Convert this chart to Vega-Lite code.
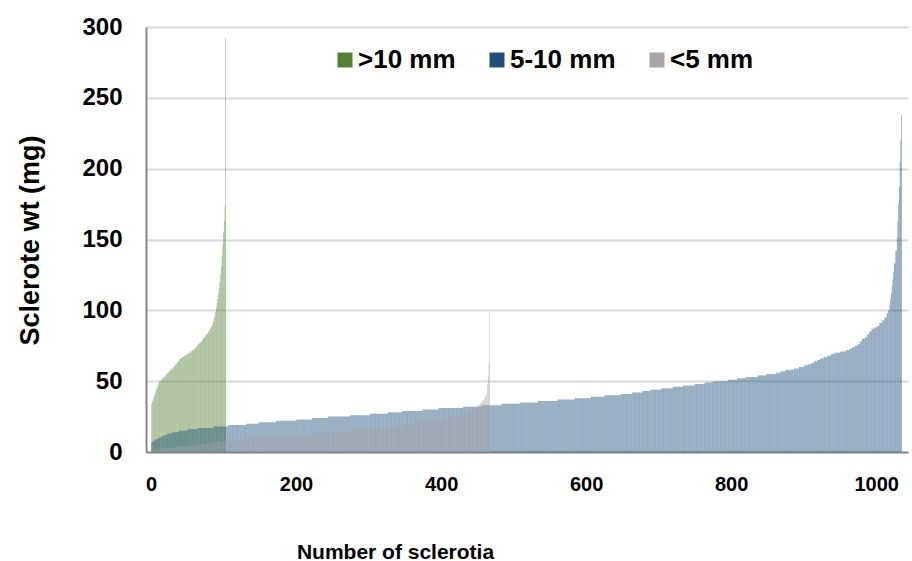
{
"$schema": "https://vega.github.io/schema/vega-lite/v6.json",
"width": 762,
"height": 425,
"autosize": {"type": "none"},
"padding": {"left": 146, "top": 27, "right": 4, "bottom": 109},
"background": "white",
"config": {"view": {"stroke": null}, "font": "Liberation Sans"},
"datasets": {
"green": [{"n":1,"w":34},{"n":2,"w":36},{"n":3,"w":37},{"n":4,"w":39},{"n":5,"w":40},{"n":6,"w":42},{"n":7,"w":44},{"n":8,"w":45},{"n":9,"w":46},{"n":10,"w":48},{"n":11,"w":49},{"n":12,"w":50},{"n":13,"w":50},{"n":14,"w":51},{"n":15,"w":51},{"n":16,"w":52},{"n":17,"w":52},{"n":18,"w":53},{"n":19,"w":53},{"n":20,"w":54},{"n":21,"w":54},{"n":22,"w":55},{"n":23,"w":56},{"n":24,"w":56},{"n":25,"w":57},{"n":26,"w":57},{"n":27,"w":58},{"n":28,"w":58},{"n":29,"w":59},{"n":30,"w":59},{"n":31,"w":60},{"n":32,"w":60},{"n":33,"w":61},{"n":34,"w":62},{"n":35,"w":62},{"n":36,"w":63},{"n":37,"w":64},{"n":38,"w":64},{"n":39,"w":65},{"n":40,"w":66},{"n":41,"w":66},{"n":42,"w":66},{"n":43,"w":67},{"n":44,"w":67},{"n":45,"w":67},{"n":46,"w":68},{"n":47,"w":68},{"n":48,"w":68},{"n":49,"w":69},{"n":50,"w":69},{"n":51,"w":69},{"n":52,"w":70},{"n":53,"w":70},{"n":54,"w":70},{"n":55,"w":71},{"n":56,"w":71},{"n":57,"w":72},{"n":58,"w":72},{"n":59,"w":72},{"n":60,"w":73},{"n":61,"w":73},{"n":62,"w":74},{"n":63,"w":74},{"n":64,"w":75},{"n":65,"w":76},{"n":66,"w":76},{"n":67,"w":77},{"n":68,"w":77},{"n":69,"w":78},{"n":70,"w":78},{"n":71,"w":79},{"n":72,"w":80},{"n":73,"w":81},{"n":74,"w":81},{"n":75,"w":82},{"n":76,"w":83},{"n":77,"w":83},{"n":78,"w":84},{"n":79,"w":85},{"n":80,"w":85},{"n":81,"w":86},{"n":82,"w":87},{"n":83,"w":88},{"n":84,"w":89},{"n":85,"w":90},{"n":86,"w":92},{"n":87,"w":94},{"n":88,"w":96},{"n":89,"w":99},{"n":90,"w":102},{"n":91,"w":105},{"n":92,"w":108},{"n":93,"w":112},{"n":94,"w":116},{"n":95,"w":120},{"n":96,"w":125},{"n":97,"w":131},{"n":98,"w":138},{"n":99,"w":146},{"n":100,"w":155},{"n":101,"w":163},{"n":102,"w":173},{"n":103,"w":292}],
"blue": [{"n":1,"w":7},{"n":2,"w":7},{"n":3,"w":8},{"n":4,"w":8},{"n":5,"w":8},{"n":6,"w":9},{"n":7,"w":9},{"n":8,"w":9},{"n":9,"w":9},{"n":10,"w":10},{"n":11,"w":10},{"n":12,"w":10},{"n":13,"w":10},{"n":14,"w":11},{"n":15,"w":11},{"n":16,"w":11},{"n":17,"w":11},{"n":18,"w":12},{"n":19,"w":12},{"n":20,"w":12},{"n":21,"w":12},{"n":22,"w":12},{"n":23,"w":13},{"n":24,"w":13},{"n":25,"w":13},{"n":26,"w":13},{"n":27,"w":13},{"n":28,"w":13},{"n":29,"w":13},{"n":30,"w":14},{"n":31,"w":14},{"n":32,"w":14},{"n":33,"w":14},{"n":34,"w":14},{"n":35,"w":14},{"n":36,"w":14},{"n":37,"w":14},{"n":38,"w":14},{"n":39,"w":15},{"n":40,"w":15},{"n":41,"w":15},{"n":42,"w":15},{"n":43,"w":15},{"n":44,"w":15},{"n":45,"w":15},{"n":46,"w":15},{"n":47,"w":15},{"n":48,"w":15},{"n":49,"w":15},{"n":50,"w":15},{"n":51,"w":16},{"n":52,"w":16},{"n":53,"w":16},{"n":54,"w":16},{"n":55,"w":16},{"n":56,"w":16},{"n":57,"w":16},{"n":58,"w":16},{"n":59,"w":16},{"n":60,"w":16},{"n":61,"w":16},{"n":62,"w":16},{"n":63,"w":16},{"n":64,"w":16},{"n":65,"w":17},{"n":66,"w":17},{"n":67,"w":17},{"n":68,"w":17},{"n":69,"w":17},{"n":70,"w":17},{"n":71,"w":17},{"n":72,"w":17},{"n":73,"w":17},{"n":74,"w":17},{"n":75,"w":17},{"n":76,"w":17},{"n":77,"w":17},{"n":78,"w":17},{"n":79,"w":17},{"n":80,"w":17},{"n":81,"w":17},{"n":82,"w":17},{"n":83,"w":17},{"n":84,"w":17},{"n":85,"w":17},{"n":86,"w":17},{"n":87,"w":18},{"n":88,"w":18},{"n":89,"w":18},{"n":90,"w":18},{"n":91,"w":18},{"n":92,"w":18},{"n":93,"w":18},{"n":94,"w":18},{"n":95,"w":18},{"n":96,"w":18},{"n":97,"w":18},{"n":98,"w":18},{"n":99,"w":18},{"n":100,"w":18},{"n":101,"w":18},{"n":102,"w":18},{"n":103,"w":18},{"n":104,"w":18},{"n":105,"w":18},{"n":106,"w":18},{"n":107,"w":19},{"n":108,"w":19},{"n":109,"w":19},{"n":110,"w":19},{"n":111,"w":19},{"n":112,"w":19},{"n":113,"w":19},{"n":114,"w":19},{"n":115,"w":19},{"n":116,"w":19},{"n":117,"w":19},{"n":118,"w":19},{"n":119,"w":19},{"n":120,"w":19},{"n":121,"w":19},{"n":122,"w":19},{"n":123,"w":19},{"n":124,"w":19},{"n":125,"w":19},{"n":126,"w":19},{"n":127,"w":19},{"n":128,"w":19},{"n":129,"w":19},{"n":130,"w":19},{"n":131,"w":19},{"n":132,"w":20},{"n":133,"w":20},{"n":134,"w":20},{"n":135,"w":20},{"n":136,"w":20},{"n":137,"w":20},{"n":138,"w":20},{"n":139,"w":20},{"n":140,"w":20},{"n":141,"w":20},{"n":142,"w":20},{"n":143,"w":20},{"n":144,"w":20},{"n":145,"w":20},{"n":146,"w":20},{"n":147,"w":20},{"n":148,"w":20},{"n":149,"w":21},{"n":150,"w":21},{"n":151,"w":21},{"n":152,"w":21},{"n":153,"w":21},{"n":154,"w":21},{"n":155,"w":21},{"n":156,"w":21},{"n":157,"w":21},{"n":158,"w":21},{"n":159,"w":21},{"n":160,"w":21},{"n":161,"w":21},{"n":162,"w":21},{"n":163,"w":21},{"n":164,"w":21},{"n":165,"w":21},{"n":166,"w":21},{"n":167,"w":21},{"n":168,"w":21},{"n":169,"w":21},{"n":170,"w":21},{"n":171,"w":21},{"n":172,"w":21},{"n":173,"w":22},{"n":174,"w":22},{"n":175,"w":22},{"n":176,"w":22},{"n":177,"w":22},{"n":178,"w":22},{"n":179,"w":22},{"n":180,"w":22},{"n":181,"w":22},{"n":182,"w":22},{"n":183,"w":22},{"n":184,"w":22},{"n":185,"w":22},{"n":186,"w":22},{"n":187,"w":22},{"n":188,"w":22},{"n":189,"w":22},{"n":190,"w":22},{"n":191,"w":22},{"n":192,"w":22},{"n":193,"w":22},{"n":194,"w":22},{"n":195,"w":22},{"n":196,"w":22},{"n":197,"w":22},{"n":198,"w":22},{"n":199,"w":22},{"n":200,"w":22},{"n":201,"w":23},{"n":202,"w":23},{"n":203,"w":23},{"n":204,"w":23},{"n":205,"w":23},{"n":206,"w":23},{"n":207,"w":23},{"n":208,"w":23},{"n":209,"w":23},{"n":210,"w":23},{"n":211,"w":23},{"n":212,"w":23},{"n":213,"w":23},{"n":214,"w":23},{"n":215,"w":23},{"n":216,"w":23},{"n":217,"w":23},{"n":218,"w":23},{"n":219,"w":23},{"n":220,"w":23},{"n":221,"w":23},{"n":222,"w":23},{"n":223,"w":24},{"n":224,"w":24},{"n":225,"w":24},{"n":226,"w":24},{"n":227,"w":24},{"n":228,"w":24},{"n":229,"w":24},{"n":230,"w":24},{"n":231,"w":24},{"n":232,"w":24},{"n":233,"w":24},{"n":234,"w":24},{"n":235,"w":24},{"n":236,"w":24},{"n":237,"w":24},{"n":238,"w":24},{"n":239,"w":24},{"n":240,"w":24},{"n":241,"w":24},{"n":242,"w":24},{"n":243,"w":24},{"n":244,"w":24},{"n":245,"w":25},{"n":246,"w":25},{"n":247,"w":25},{"n":248,"w":25},{"n":249,"w":25},{"n":250,"w":25},{"n":251,"w":25},{"n":252,"w":25},{"n":253,"w":25},{"n":254,"w":25},{"n":255,"w":25},{"n":256,"w":25},{"n":257,"w":25},{"n":258,"w":25},{"n":259,"w":25},{"n":260,"w":25},{"n":261,"w":25},{"n":262,"w":25},{"n":263,"w":25},{"n":264,"w":25},{"n":265,"w":25},{"n":266,"w":25},{"n":267,"w":25},{"n":268,"w":25},{"n":269,"w":25},{"n":270,"w":25},{"n":271,"w":25},{"n":272,"w":25},{"n":273,"w":25},{"n":274,"w":25},{"n":275,"w":26},{"n":276,"w":26},{"n":277,"w":26},{"n":278,"w":26},{"n":279,"w":26},{"n":280,"w":26},{"n":281,"w":26},{"n":282,"w":26},{"n":283,"w":26},{"n":284,"w":26},{"n":285,"w":26},{"n":286,"w":26},{"n":287,"w":26},{"n":288,"w":26},{"n":289,"w":26},{"n":290,"w":26},{"n":291,"w":26},{"n":292,"w":26},{"n":293,"w":26},{"n":294,"w":26},{"n":295,"w":26},{"n":296,"w":26},{"n":297,"w":26},{"n":298,"w":26},{"n":299,"w":26},{"n":300,"w":26},{"n":301,"w":26},{"n":302,"w":26},{"n":303,"w":27},{"n":304,"w":27},{"n":305,"w":27},{"n":306,"w":27},{"n":307,"w":27},{"n":308,"w":27},{"n":309,"w":27},{"n":310,"w":27},{"n":311,"w":27},{"n":312,"w":27},{"n":313,"w":27},{"n":314,"w":27},{"n":315,"w":27},{"n":316,"w":27},{"n":317,"w":27},{"n":318,"w":27},{"n":319,"w":27},{"n":320,"w":27},{"n":321,"w":27},{"n":322,"w":27},{"n":323,"w":27},{"n":324,"w":27},{"n":325,"w":27},{"n":326,"w":27},{"n":327,"w":28},{"n":328,"w":28},{"n":329,"w":28},{"n":330,"w":28},{"n":331,"w":28},{"n":332,"w":28},{"n":333,"w":28},{"n":334,"w":28},{"n":335,"w":28},{"n":336,"w":28},{"n":337,"w":28},{"n":338,"w":28},{"n":339,"w":28},{"n":340,"w":28},{"n":341,"w":28},{"n":342,"w":28},{"n":343,"w":28},{"n":344,"w":28},{"n":345,"w":28},{"n":346,"w":28},{"n":347,"w":29},{"n":348,"w":29},{"n":349,"w":29},{"n":350,"w":29},{"n":351,"w":29},{"n":352,"w":29},{"n":353,"w":29},{"n":354,"w":29},{"n":355,"w":29},{"n":356,"w":29},{"n":357,"w":29},{"n":358,"w":29},{"n":359,"w":29},{"n":360,"w":29},{"n":361,"w":29},{"n":362,"w":29},{"n":363,"w":29},{"n":364,"w":29},{"n":365,"w":29},{"n":366,"w":29},{"n":367,"w":29},{"n":368,"w":29},{"n":369,"w":29},{"n":370,"w":29},{"n":371,"w":29},{"n":372,"w":29},{"n":373,"w":29},{"n":374,"w":29},{"n":375,"w":30},{"n":376,"w":30},{"n":377,"w":30},{"n":378,"w":30},{"n":379,"w":30},{"n":380,"w":30},{"n":381,"w":30},{"n":382,"w":30},{"n":383,"w":30},{"n":384,"w":30},{"n":385,"w":30},{"n":386,"w":30},{"n":387,"w":30},{"n":388,"w":30},{"n":389,"w":30},{"n":390,"w":30},{"n":391,"w":30},{"n":392,"w":30},{"n":393,"w":30},{"n":394,"w":30},{"n":395,"w":30},{"n":396,"w":30},{"n":397,"w":31},{"n":398,"w":31},{"n":399,"w":31},{"n":400,"w":31},{"n":401,"w":31},{"n":402,"w":31},{"n":403,"w":31},{"n":404,"w":31},{"n":405,"w":31},{"n":406,"w":31},{"n":407,"w":31},{"n":408,"w":31},{"n":409,"w":31},{"n":410,"w":31},{"n":411,"w":31},{"n":412,"w":31},{"n":413,"w":31},{"n":414,"w":31},{"n":415,"w":31},{"n":416,"w":31},{"n":417,"w":31},{"n":418,"w":31},{"n":419,"w":31},{"n":420,"w":31},{"n":421,"w":31},{"n":422,"w":31},{"n":423,"w":31},{"n":424,"w":31},{"n":425,"w":31},{"n":426,"w":31},{"n":427,"w":31},{"n":428,"w":31},{"n":429,"w":31},{"n":430,"w":31},{"n":431,"w":32},{"n":432,"w":32},{"n":433,"w":32},{"n":434,"w":32},{"n":435,"w":32},{"n":436,"w":32},{"n":437,"w":32},{"n":438,"w":32},{"n":439,"w":32},{"n":440,"w":32},{"n":441,"w":32},{"n":442,"w":32},{"n":443,"w":32},{"n":444,"w":32},{"n":445,"w":32},{"n":446,"w":32},{"n":447,"w":32},{"n":448,"w":32},{"n":449,"w":32},{"n":450,"w":32},{"n":451,"w":32},{"n":452,"w":32},{"n":453,"w":32},{"n":454,"w":32},{"n":455,"w":32},{"n":456,"w":33},{"n":457,"w":33},{"n":458,"w":33},{"n":459,"w":33},{"n":460,"w":33},{"n":461,"w":33},{"n":462,"w":33},{"n":463,"w":33},{"n":464,"w":33},{"n":465,"w":33},{"n":466,"w":33},{"n":467,"w":33},{"n":468,"w":33},{"n":469,"w":33},{"n":470,"w":33},{"n":471,"w":33},{"n":472,"w":33},{"n":473,"w":33},{"n":474,"w":33},{"n":475,"w":33},{"n":476,"w":33},{"n":477,"w":33},{"n":478,"w":33},{"n":479,"w":33},{"n":480,"w":33},{"n":481,"w":33},{"n":482,"w":33},{"n":483,"w":33},{"n":484,"w":34},{"n":485,"w":34},{"n":486,"w":34},{"n":487,"w":34},{"n":488,"w":34},{"n":489,"w":34},{"n":490,"w":34},{"n":491,"w":34},{"n":492,"w":34},{"n":493,"w":34},{"n":494,"w":34},{"n":495,"w":34},{"n":496,"w":34},{"n":497,"w":34},{"n":498,"w":34},{"n":499,"w":34},{"n":500,"w":34},{"n":501,"w":34},{"n":502,"w":34},{"n":503,"w":34},{"n":504,"w":34},{"n":505,"w":34},{"n":506,"w":34},{"n":507,"w":34},{"n":508,"w":34},{"n":509,"w":35},{"n":510,"w":35},{"n":511,"w":35},{"n":512,"w":35},{"n":513,"w":35},{"n":514,"w":35},{"n":515,"w":35},{"n":516,"w":35},{"n":517,"w":35},{"n":518,"w":35},{"n":519,"w":35},{"n":520,"w":35},{"n":521,"w":35},{"n":522,"w":35},{"n":523,"w":35},{"n":524,"w":35},{"n":525,"w":35},{"n":526,"w":35},{"n":527,"w":35},{"n":528,"w":35},{"n":529,"w":35},{"n":530,"w":35},{"n":531,"w":35},{"n":532,"w":35},{"n":533,"w":35},{"n":534,"w":36},{"n":535,"w":36},{"n":536,"w":36},{"n":537,"w":36},{"n":538,"w":36},{"n":539,"w":36},{"n":540,"w":36},{"n":541,"w":36},{"n":542,"w":36},{"n":543,"w":36},{"n":544,"w":36},{"n":545,"w":36},{"n":546,"w":36},{"n":547,"w":36},{"n":548,"w":36},{"n":549,"w":36},{"n":550,"w":36},{"n":551,"w":36},{"n":552,"w":36},{"n":553,"w":36},{"n":554,"w":36},{"n":555,"w":36},{"n":556,"w":36},{"n":557,"w":36},{"n":558,"w":36},{"n":559,"w":36},{"n":560,"w":36},{"n":561,"w":37},{"n":562,"w":37},{"n":563,"w":37},{"n":564,"w":37},{"n":565,"w":37},{"n":566,"w":37},{"n":567,"w":37},{"n":568,"w":37},{"n":569,"w":37},{"n":570,"w":37},{"n":571,"w":37},{"n":572,"w":37},{"n":573,"w":37},{"n":574,"w":37},{"n":575,"w":37},{"n":576,"w":37},{"n":577,"w":37},{"n":578,"w":37},{"n":579,"w":37},{"n":580,"w":37},{"n":581,"w":37},{"n":582,"w":37},{"n":583,"w":37},{"n":584,"w":37},{"n":585,"w":38},{"n":586,"w":38},{"n":587,"w":38},{"n":588,"w":38},{"n":589,"w":38},{"n":590,"w":38},{"n":591,"w":38},{"n":592,"w":38},{"n":593,"w":38},{"n":594,"w":38},{"n":595,"w":38},{"n":596,"w":38},{"n":597,"w":38},{"n":598,"w":38},{"n":599,"w":38},{"n":600,"w":38},{"n":601,"w":38},{"n":602,"w":38},{"n":603,"w":38},{"n":604,"w":38},{"n":605,"w":38},{"n":606,"w":38},{"n":607,"w":39},{"n":608,"w":39},{"n":609,"w":39},{"n":610,"w":39},{"n":611,"w":39},{"n":612,"w":39},{"n":613,"w":39},{"n":614,"w":39},{"n":615,"w":39},{"n":616,"w":39},{"n":617,"w":39},{"n":618,"w":39},{"n":619,"w":39},{"n":620,"w":39},{"n":621,"w":39},{"n":622,"w":39},{"n":623,"w":39},{"n":624,"w":39},{"n":625,"w":39},{"n":626,"w":40},{"n":627,"w":40},{"n":628,"w":40},{"n":629,"w":40},{"n":630,"w":40},{"n":631,"w":40},{"n":632,"w":40},{"n":633,"w":40},{"n":634,"w":40},{"n":635,"w":40},{"n":636,"w":40},{"n":637,"w":40},{"n":638,"w":40},{"n":639,"w":40},{"n":640,"w":40},{"n":641,"w":40},{"n":642,"w":40},{"n":643,"w":40},{"n":644,"w":40},{"n":645,"w":40},{"n":646,"w":40},{"n":647,"w":40},{"n":648,"w":41},{"n":649,"w":41},{"n":650,"w":41},{"n":651,"w":41},{"n":652,"w":41},{"n":653,"w":41},{"n":654,"w":41},{"n":655,"w":41},{"n":656,"w":41},{"n":657,"w":41},{"n":658,"w":41},{"n":659,"w":41},{"n":660,"w":41},{"n":661,"w":41},{"n":662,"w":41},{"n":663,"w":41},{"n":664,"w":42},{"n":665,"w":42},{"n":666,"w":42},{"n":667,"w":42},{"n":668,"w":42},{"n":669,"w":42},{"n":670,"w":42},{"n":671,"w":42},{"n":672,"w":42},{"n":673,"w":42},{"n":674,"w":42},{"n":675,"w":42},{"n":676,"w":42},{"n":677,"w":42},{"n":678,"w":43},{"n":679,"w":43},{"n":680,"w":43},{"n":681,"w":43},{"n":682,"w":43},{"n":683,"w":43},{"n":684,"w":43},{"n":685,"w":43},{"n":686,"w":43},{"n":687,"w":43},{"n":688,"w":43},{"n":689,"w":44},{"n":690,"w":44},{"n":691,"w":44},{"n":692,"w":44},{"n":693,"w":44},{"n":694,"w":44},{"n":695,"w":44},{"n":696,"w":44},{"n":697,"w":44},{"n":698,"w":44},{"n":699,"w":44},{"n":700,"w":44},{"n":701,"w":44},{"n":702,"w":44},{"n":703,"w":44},{"n":704,"w":45},{"n":705,"w":45},{"n":706,"w":45},{"n":707,"w":45},{"n":708,"w":45},{"n":709,"w":45},{"n":710,"w":45},{"n":711,"w":45},{"n":712,"w":45},{"n":713,"w":45},{"n":714,"w":45},{"n":715,"w":45},{"n":716,"w":45},{"n":717,"w":45},{"n":718,"w":45},{"n":719,"w":45},{"n":720,"w":46},{"n":721,"w":46},{"n":722,"w":46},{"n":723,"w":46},{"n":724,"w":46},{"n":725,"w":46},{"n":726,"w":46},{"n":727,"w":46},{"n":728,"w":46},{"n":729,"w":46},{"n":730,"w":46},{"n":731,"w":46},{"n":732,"w":46},{"n":733,"w":46},{"n":734,"w":47},{"n":735,"w":47},{"n":736,"w":47},{"n":737,"w":47},{"n":738,"w":47},{"n":739,"w":47},{"n":740,"w":47},{"n":741,"w":47},{"n":742,"w":47},{"n":743,"w":47},{"n":744,"w":47},{"n":745,"w":47},{"n":746,"w":47},{"n":747,"w":47},{"n":748,"w":47},{"n":749,"w":47},{"n":750,"w":48},{"n":751,"w":48},{"n":752,"w":48},{"n":753,"w":48},{"n":754,"w":48},{"n":755,"w":48},{"n":756,"w":48},{"n":757,"w":48},{"n":758,"w":48},{"n":759,"w":48},{"n":760,"w":48},{"n":761,"w":48},{"n":762,"w":48},{"n":763,"w":48},{"n":764,"w":49},{"n":765,"w":49},{"n":766,"w":49},{"n":767,"w":49},{"n":768,"w":49},{"n":769,"w":49},{"n":770,"w":49},{"n":771,"w":49},{"n":772,"w":49},{"n":773,"w":49},{"n":774,"w":49},{"n":775,"w":50},{"n":776,"w":50},{"n":777,"w":50},{"n":778,"w":50},{"n":779,"w":50},{"n":780,"w":50},{"n":781,"w":50},{"n":782,"w":50},{"n":783,"w":50},{"n":784,"w":50},{"n":785,"w":50},{"n":786,"w":50},{"n":787,"w":50},{"n":788,"w":50},{"n":789,"w":50},{"n":790,"w":50},{"n":791,"w":50},{"n":792,"w":50},{"n":793,"w":50},{"n":794,"w":50},{"n":795,"w":50},{"n":796,"w":51},{"n":797,"w":51},{"n":798,"w":51},{"n":799,"w":51},{"n":800,"w":51},{"n":801,"w":51},{"n":802,"w":51},{"n":803,"w":51},{"n":804,"w":51},{"n":805,"w":51},{"n":806,"w":51},{"n":807,"w":51},{"n":808,"w":51},{"n":809,"w":52},{"n":810,"w":52},{"n":811,"w":52},{"n":812,"w":52},{"n":813,"w":52},{"n":814,"w":52},{"n":815,"w":52},{"n":816,"w":52},{"n":817,"w":52},{"n":818,"w":52},{"n":819,"w":52},{"n":820,"w":52},{"n":821,"w":53},{"n":822,"w":53},{"n":823,"w":53},{"n":824,"w":53},{"n":825,"w":53},{"n":826,"w":53},{"n":827,"w":53},{"n":828,"w":53},{"n":829,"w":53},{"n":830,"w":53},{"n":831,"w":53},{"n":832,"w":53},{"n":833,"w":53},{"n":834,"w":53},{"n":835,"w":53},{"n":836,"w":53},{"n":837,"w":54},{"n":838,"w":54},{"n":839,"w":54},{"n":840,"w":54},{"n":841,"w":54},{"n":842,"w":54},{"n":843,"w":54},{"n":844,"w":54},{"n":845,"w":54},{"n":846,"w":54},{"n":847,"w":54},{"n":848,"w":54},{"n":849,"w":55},{"n":850,"w":55},{"n":851,"w":55},{"n":852,"w":55},{"n":853,"w":55},{"n":854,"w":55},{"n":855,"w":55},{"n":856,"w":55},{"n":857,"w":55},{"n":858,"w":55},{"n":859,"w":55},{"n":860,"w":55},{"n":861,"w":55},{"n":862,"w":56},{"n":863,"w":56},{"n":864,"w":56},{"n":865,"w":56},{"n":866,"w":56},{"n":867,"w":56},{"n":868,"w":56},{"n":869,"w":57},{"n":870,"w":57},{"n":871,"w":57},{"n":872,"w":57},{"n":873,"w":57},{"n":874,"w":57},{"n":875,"w":57},{"n":876,"w":58},{"n":877,"w":58},{"n":878,"w":58},{"n":879,"w":58},{"n":880,"w":58},{"n":881,"w":58},{"n":882,"w":58},{"n":883,"w":58},{"n":884,"w":58},{"n":885,"w":58},{"n":886,"w":58},{"n":887,"w":59},{"n":888,"w":59},{"n":889,"w":59},{"n":890,"w":59},{"n":891,"w":59},{"n":892,"w":59},{"n":893,"w":59},{"n":894,"w":60},{"n":895,"w":60},{"n":896,"w":60},{"n":897,"w":60},{"n":898,"w":60},{"n":899,"w":60},{"n":900,"w":60},{"n":901,"w":61},{"n":902,"w":61},{"n":903,"w":61},{"n":904,"w":61},{"n":905,"w":61},{"n":906,"w":62},{"n":907,"w":62},{"n":908,"w":62},{"n":909,"w":62},{"n":910,"w":62},{"n":911,"w":63},{"n":912,"w":63},{"n":913,"w":63},{"n":914,"w":63},{"n":915,"w":64},{"n":916,"w":64},{"n":917,"w":64},{"n":918,"w":64},{"n":919,"w":65},{"n":920,"w":65},{"n":921,"w":65},{"n":922,"w":65},{"n":923,"w":66},{"n":924,"w":66},{"n":925,"w":66},{"n":926,"w":66},{"n":927,"w":66},{"n":928,"w":67},{"n":929,"w":67},{"n":930,"w":67},{"n":931,"w":67},{"n":932,"w":67},{"n":933,"w":68},{"n":934,"w":68},{"n":935,"w":68},{"n":936,"w":68},{"n":937,"w":68},{"n":938,"w":69},{"n":939,"w":69},{"n":940,"w":69},{"n":941,"w":69},{"n":942,"w":69},{"n":943,"w":70},{"n":944,"w":70},{"n":945,"w":70},{"n":946,"w":70},{"n":947,"w":70},{"n":948,"w":70},{"n":949,"w":70},{"n":950,"w":70},{"n":951,"w":71},{"n":952,"w":71},{"n":953,"w":71},{"n":954,"w":71},{"n":955,"w":71},{"n":956,"w":71},{"n":957,"w":71},{"n":958,"w":71},{"n":959,"w":72},{"n":960,"w":72},{"n":961,"w":72},{"n":962,"w":72},{"n":963,"w":72},{"n":964,"w":73},{"n":965,"w":73},{"n":966,"w":73},{"n":967,"w":74},{"n":968,"w":74},{"n":969,"w":74},{"n":970,"w":74},{"n":971,"w":75},{"n":972,"w":75},{"n":973,"w":75},{"n":974,"w":75},{"n":975,"w":76},{"n":976,"w":76},{"n":977,"w":76},{"n":978,"w":78},{"n":979,"w":78},{"n":980,"w":78},{"n":981,"w":80},{"n":982,"w":80},{"n":983,"w":80},{"n":984,"w":80},{"n":985,"w":81},{"n":986,"w":81},{"n":987,"w":81},{"n":988,"w":83},{"n":989,"w":83},{"n":990,"w":83},{"n":991,"w":85},{"n":992,"w":85},{"n":993,"w":85},{"n":994,"w":87},{"n":995,"w":87},{"n":996,"w":87},{"n":997,"w":87},{"n":998,"w":88},{"n":999,"w":88},{"n":1000,"w":88},{"n":1001,"w":88},{"n":1002,"w":89},{"n":1003,"w":89},{"n":1004,"w":89},{"n":1005,"w":91},{"n":1006,"w":91},{"n":1007,"w":91},{"n":1008,"w":91},{"n":1009,"w":93},{"n":1010,"w":93},{"n":1011,"w":93},{"n":1012,"w":95},{"n":1013,"w":95},{"n":1014,"w":95},{"n":1015,"w":98},{"n":1016,"w":98},{"n":1017,"w":100},{"n":1018,"w":100},{"n":1019,"w":104},{"n":1020,"w":108},{"n":1021,"w":112},{"n":1022,"w":117},{"n":1023,"w":122},{"n":1024,"w":127},{"n":1025,"w":133},{"n":1026,"w":133},{"n":1027,"w":142},{"n":1028,"w":142},{"n":1029,"w":152},{"n":1030,"w":163},{"n":1031,"w":175},{"n":1032,"w":187},{"n":1033,"w":205},{"n":1034,"w":220},{"n":1035,"w":238}],
"gray": [{"n":1,"w":0.5},{"n":2,"w":0.8},{"n":3,"w":1.0},{"n":4,"w":1.2},{"n":5,"w":1.4},{"n":6,"w":1.6},{"n":7,"w":1.8},{"n":8,"w":1.9},{"n":9,"w":2.0},{"n":10,"w":2.1},{"n":11,"w":2.2},{"n":12,"w":2.2},{"n":13,"w":2.3},{"n":14,"w":2.3},{"n":15,"w":2.4},{"n":16,"w":2.4},{"n":17,"w":2.5},{"n":18,"w":2.5},{"n":19,"w":2.6},{"n":20,"w":2.6},{"n":21,"w":2.7},{"n":22,"w":2.7},{"n":23,"w":2.8},{"n":24,"w":2.8},{"n":25,"w":2.9},{"n":26,"w":2.9},{"n":27,"w":3.0},{"n":28,"w":3.0},{"n":29,"w":3.1},{"n":30,"w":3.1},{"n":31,"w":3.2},{"n":32,"w":3.2},{"n":33,"w":3.3},{"n":34,"w":3.3},{"n":35,"w":3.4},{"n":36,"w":3.4},{"n":37,"w":3.5},{"n":38,"w":3.5},{"n":39,"w":3.6},{"n":40,"w":3.7},{"n":41,"w":3.7},{"n":42,"w":3.8},{"n":43,"w":3.8},{"n":44,"w":3.9},{"n":45,"w":4.0},{"n":46,"w":4.1},{"n":47,"w":4.1},{"n":48,"w":4.2},{"n":49,"w":4.3},{"n":50,"w":4.3},{"n":51,"w":4.4},{"n":52,"w":4.4},{"n":53,"w":4.5},{"n":54,"w":4.6},{"n":55,"w":4.6},{"n":56,"w":4.7},{"n":57,"w":4.8},{"n":58,"w":4.8},{"n":59,"w":4.9},{"n":60,"w":4.9},{"n":61,"w":5.0},{"n":62,"w":5.1},{"n":63,"w":5.1},{"n":64,"w":5.2},{"n":65,"w":5.3},{"n":66,"w":5.3},{"n":67,"w":5.4},{"n":68,"w":5.4},{"n":69,"w":5.5},{"n":70,"w":5.6},{"n":71,"w":5.6},{"n":72,"w":5.7},{"n":73,"w":5.8},{"n":74,"w":5.8},{"n":75,"w":5.9},{"n":76,"w":5.9},{"n":77,"w":6.0},{"n":78,"w":6.1},{"n":79,"w":6.1},{"n":80,"w":6.2},{"n":81,"w":6.3},{"n":82,"w":6.3},{"n":83,"w":6.4},{"n":84,"w":6.4},{"n":85,"w":6.5},{"n":86,"w":6.6},{"n":87,"w":6.6},{"n":88,"w":6.7},{"n":89,"w":6.8},{"n":90,"w":6.8},{"n":91,"w":6.9},{"n":92,"w":6.9},{"n":93,"w":7.0},{"n":94,"w":7.1},{"n":95,"w":7.1},{"n":96,"w":7.2},{"n":97,"w":7.3},{"n":98,"w":7.3},{"n":99,"w":7.4},{"n":100,"w":7.4},{"n":101,"w":7.5},{"n":102,"w":7.6},{"n":103,"w":7.6},{"n":104,"w":7.7},{"n":105,"w":7.8},{"n":106,"w":7.8},{"n":107,"w":7.9},{"n":108,"w":7.9},{"n":109,"w":8.0},{"n":110,"w":8.0},{"n":111,"w":8.1},{"n":112,"w":8.1},{"n":113,"w":8.2},{"n":114,"w":8.2},{"n":115,"w":8.3},{"n":116,"w":8.3},{"n":117,"w":8.4},{"n":118,"w":8.4},{"n":119,"w":8.5},{"n":120,"w":8.5},{"n":121,"w":8.6},{"n":122,"w":8.6},{"n":123,"w":8.7},{"n":124,"w":8.7},{"n":125,"w":8.8},{"n":126,"w":8.8},{"n":127,"w":8.9},{"n":128,"w":8.9},{"n":129,"w":9.0},{"n":130,"w":9.0},{"n":131,"w":9.1},{"n":132,"w":9.1},{"n":133,"w":9.2},{"n":134,"w":9.2},{"n":135,"w":9.3},{"n":136,"w":9.3},{"n":137,"w":9.4},{"n":138,"w":9.4},{"n":139,"w":9.5},{"n":140,"w":9.5},{"n":141,"w":9.6},{"n":142,"w":9.6},{"n":143,"w":9.7},{"n":144,"w":9.7},{"n":145,"w":9.8},{"n":146,"w":9.8},{"n":147,"w":9.9},{"n":148,"w":9.9},{"n":149,"w":10.0},{"n":150,"w":10.0},{"n":151,"w":10.0},{"n":152,"w":10.1},{"n":153,"w":10.1},{"n":154,"w":10.2},{"n":155,"w":10.2},{"n":156,"w":10.2},{"n":157,"w":10.3},{"n":158,"w":10.3},{"n":159,"w":10.4},{"n":160,"w":10.4},{"n":161,"w":10.4},{"n":162,"w":10.5},{"n":163,"w":10.5},{"n":164,"w":10.6},{"n":165,"w":10.6},{"n":166,"w":10.6},{"n":167,"w":10.7},{"n":168,"w":10.7},{"n":169,"w":10.8},{"n":170,"w":10.8},{"n":171,"w":10.8},{"n":172,"w":10.9},{"n":173,"w":10.9},{"n":174,"w":11.0},{"n":175,"w":11.0},{"n":176,"w":11.0},{"n":177,"w":11.1},{"n":178,"w":11.1},{"n":179,"w":11.2},{"n":180,"w":11.2},{"n":181,"w":11.2},{"n":182,"w":11.3},{"n":183,"w":11.3},{"n":184,"w":11.4},{"n":185,"w":11.4},{"n":186,"w":11.4},{"n":187,"w":11.5},{"n":188,"w":11.5},{"n":189,"w":11.6},{"n":190,"w":11.6},{"n":191,"w":11.6},{"n":192,"w":11.7},{"n":193,"w":11.7},{"n":194,"w":11.8},{"n":195,"w":11.8},{"n":196,"w":11.8},{"n":197,"w":11.9},{"n":198,"w":11.9},{"n":199,"w":12.0},{"n":200,"w":12.0},{"n":201,"w":12.0},{"n":202,"w":12.1},{"n":203,"w":12.1},{"n":204,"w":12.1},{"n":205,"w":12.2},{"n":206,"w":12.2},{"n":207,"w":12.2},{"n":208,"w":12.3},{"n":209,"w":12.3},{"n":210,"w":12.3},{"n":211,"w":12.4},{"n":212,"w":12.4},{"n":213,"w":12.4},{"n":214,"w":12.5},{"n":215,"w":12.5},{"n":216,"w":12.5},{"n":217,"w":12.6},{"n":218,"w":12.6},{"n":219,"w":12.6},{"n":220,"w":12.7},{"n":221,"w":12.7},{"n":222,"w":12.7},{"n":223,"w":12.8},{"n":224,"w":12.8},{"n":225,"w":12.8},{"n":226,"w":12.9},{"n":227,"w":12.9},{"n":228,"w":12.9},{"n":229,"w":13.0},{"n":230,"w":13.0},{"n":231,"w":13.0},{"n":232,"w":13.0},{"n":233,"w":13.1},{"n":234,"w":13.1},{"n":235,"w":13.1},{"n":236,"w":13.1},{"n":237,"w":13.2},{"n":238,"w":13.2},{"n":239,"w":13.2},{"n":240,"w":13.2},{"n":241,"w":13.3},{"n":242,"w":13.3},{"n":243,"w":13.3},{"n":244,"w":13.3},{"n":245,"w":13.3},{"n":246,"w":13.4},{"n":247,"w":13.4},{"n":248,"w":13.5},{"n":249,"w":13.5},{"n":250,"w":13.6},{"n":251,"w":13.6},{"n":252,"w":13.7},{"n":253,"w":13.7},{"n":254,"w":13.8},{"n":255,"w":13.8},{"n":256,"w":13.9},{"n":257,"w":13.9},{"n":258,"w":14.0},{"n":259,"w":14.0},{"n":260,"w":14.1},{"n":261,"w":14.2},{"n":262,"w":14.2},{"n":263,"w":14.3},{"n":264,"w":14.3},{"n":265,"w":14.4},{"n":266,"w":14.4},{"n":267,"w":14.5},{"n":268,"w":14.5},{"n":269,"w":14.6},{"n":270,"w":14.6},{"n":271,"w":14.7},{"n":272,"w":14.7},{"n":273,"w":14.8},{"n":274,"w":14.9},{"n":275,"w":14.9},{"n":276,"w":15.0},{"n":277,"w":15.0},{"n":278,"w":15.1},{"n":279,"w":15.1},{"n":280,"w":15.2},{"n":281,"w":15.2},{"n":282,"w":15.3},{"n":283,"w":15.3},{"n":284,"w":15.4},{"n":285,"w":15.4},{"n":286,"w":15.5},{"n":287,"w":15.6},{"n":288,"w":15.6},{"n":289,"w":15.7},{"n":290,"w":15.7},{"n":291,"w":15.8},{"n":292,"w":15.8},{"n":293,"w":15.9},{"n":294,"w":15.9},{"n":295,"w":16.0},{"n":296,"w":16.0},{"n":297,"w":16.1},{"n":298,"w":16.2},{"n":299,"w":16.2},{"n":300,"w":16.3},{"n":301,"w":16.3},{"n":302,"w":16.4},{"n":303,"w":16.4},{"n":304,"w":16.5},{"n":305,"w":16.5},{"n":306,"w":16.6},{"n":307,"w":16.6},{"n":308,"w":16.7},{"n":309,"w":16.8},{"n":310,"w":16.8},{"n":311,"w":16.9},{"n":312,"w":16.9},{"n":313,"w":17.0},{"n":314,"w":17.0},{"n":315,"w":17.1},{"n":316,"w":17.1},{"n":317,"w":17.2},{"n":318,"w":17.2},{"n":319,"w":17.3},{"n":320,"w":17.3},{"n":321,"w":17.4},{"n":322,"w":17.5},{"n":323,"w":17.5},{"n":324,"w":17.6},{"n":325,"w":17.6},{"n":326,"w":17.7},{"n":327,"w":17.8},{"n":328,"w":17.9},{"n":329,"w":17.9},{"n":330,"w":18.0},{"n":331,"w":18.1},{"n":332,"w":18.2},{"n":333,"w":18.2},{"n":334,"w":18.3},{"n":335,"w":18.4},{"n":336,"w":18.4},{"n":337,"w":18.5},{"n":338,"w":18.6},{"n":339,"w":18.7},{"n":340,"w":18.7},{"n":341,"w":18.8},{"n":342,"w":18.9},{"n":343,"w":18.9},{"n":344,"w":19.0},{"n":345,"w":19.1},{"n":346,"w":19.2},{"n":347,"w":19.2},{"n":348,"w":19.3},{"n":349,"w":19.4},{"n":350,"w":19.4},{"n":351,"w":19.5},{"n":352,"w":19.6},{"n":353,"w":19.7},{"n":354,"w":19.7},{"n":355,"w":19.8},{"n":356,"w":19.9},{"n":357,"w":19.9},{"n":358,"w":20.0},{"n":359,"w":20.1},{"n":360,"w":20.2},{"n":361,"w":20.2},{"n":362,"w":20.3},{"n":363,"w":20.4},{"n":364,"w":20.4},{"n":365,"w":20.5},{"n":366,"w":20.6},{"n":367,"w":20.7},{"n":368,"w":20.7},{"n":369,"w":20.8},{"n":370,"w":20.9},{"n":371,"w":20.9},{"n":372,"w":21.0},{"n":373,"w":21.1},{"n":374,"w":21.2},{"n":375,"w":21.2},{"n":376,"w":21.3},{"n":377,"w":21.4},{"n":378,"w":21.4},{"n":379,"w":21.5},{"n":380,"w":21.6},{"n":381,"w":21.7},{"n":382,"w":21.7},{"n":383,"w":21.8},{"n":384,"w":21.9},{"n":385,"w":21.9},{"n":386,"w":22.0},{"n":387,"w":22.1},{"n":388,"w":22.1},{"n":389,"w":22.2},{"n":390,"w":22.2},{"n":391,"w":22.3},{"n":392,"w":22.3},{"n":393,"w":22.4},{"n":394,"w":22.4},{"n":395,"w":22.5},{"n":396,"w":22.6},{"n":397,"w":22.7},{"n":398,"w":22.8},{"n":399,"w":22.9},{"n":400,"w":23.0},{"n":401,"w":23.2},{"n":402,"w":23.3},{"n":403,"w":23.4},{"n":404,"w":23.5},{"n":405,"w":23.6},{"n":406,"w":23.7},{"n":407,"w":23.8},{"n":408,"w":23.9},{"n":409,"w":24.0},{"n":410,"w":24.2},{"n":411,"w":24.3},{"n":412,"w":24.4},{"n":413,"w":24.5},{"n":414,"w":24.6},{"n":415,"w":24.7},{"n":416,"w":24.8},{"n":417,"w":24.9},{"n":418,"w":25.0},{"n":419,"w":25.1},{"n":420,"w":25.2},{"n":421,"w":25.3},{"n":422,"w":25.4},{"n":423,"w":25.5},{"n":424,"w":25.6},{"n":425,"w":25.7},{"n":426,"w":25.8},{"n":427,"w":26.0},{"n":428,"w":26.2},{"n":429,"w":26.4},{"n":430,"w":26.7},{"n":431,"w":27.0},{"n":432,"w":27.2},{"n":433,"w":27.5},{"n":434,"w":27.8},{"n":435,"w":28.0},{"n":436,"w":28.3},{"n":437,"w":28.6},{"n":438,"w":28.8},{"n":439,"w":29.1},{"n":440,"w":29.4},{"n":441,"w":29.6},{"n":442,"w":29.9},{"n":443,"w":30.2},{"n":444,"w":30.5},{"n":445,"w":30.8},{"n":446,"w":31.1},{"n":447,"w":31.5},{"n":448,"w":31.8},{"n":449,"w":32.2},{"n":450,"w":32.5},{"n":451,"w":32.9},{"n":452,"w":33.2},{"n":453,"w":33.6},{"n":454,"w":34.0},{"n":455,"w":34.6},{"n":456,"w":35.2},{"n":457,"w":35.9},{"n":458,"w":36.5},{"n":459,"w":37.2},{"n":460,"w":38.0},{"n":461,"w":39.0},{"n":462,"w":40.2},{"n":463,"w":41.5},{"n":464,"w":48.0},{"n":465,"w":54.0},{"n":466,"w":63.0},{"n":467,"w":99.0}]
},
"encoding": {
  "x": {"field": "n", "type": "quantitative",
    "scale": {"domain": [0, 1037], "nice": false, "zero": true},
    "axis": {"title": "Number of sclerotia", "values": [0, 200, 400, 600, 800, 1000], "format": "d",
      "grid": false, "ticks": false, "tickSize": 0, "domainColor": "#868686", "domainWidth": 2,
      "labelFontSize": 20, "labelFontWeight": "bold", "labelColor": "#000000",
      "labelBaseline": "alphabetic", "labelPadding": 38, "labelFlush": false,
      "titleFontSize": 21, "titleFontWeight": "bold", "titleColor": "#000000",
      "titleX": 249, "titleY": 106, "titleBaseline": "alphabetic", "titleAlign": "center", "titleAnchor": null}},
  "y": {"field": "w", "type": "quantitative",
    "scale": {"domain": [0, 300], "nice": false},
    "axis": {"title": "Sclerote wt (mg)", "values": [0, 50, 100, 150, 200, 250, 300],
      "grid": true, "gridColor": "#d9d9d9", "gridWidth": 2, "ticks": false, "tickSize": 0,
      "domainColor": "#868686", "domainWidth": 2,
      "labelFontSize": 24, "labelFontWeight": "bold", "labelColor": "#000000", "labelPadding": 24,
      "titleFontSize": 27, "titleFontWeight": "bold", "titleColor": "#000000",
      "titleX": -108, "titleY": 213, "titleAngle": 270, "titleBaseline": "alphabetic", "titleAlign": "center", "titleAnchor": null}}
},
"layer": [
  {"data": {"name": "green"}, "mark": {"type": "bar", "size": 0.6, "opacity": 0.6},
   "encoding": {"color": {"datum": ">10 mm", "type": "nominal",
     "scale": {"domain": [">10 mm", "5-10 mm", "<5 mm"], "range": ["#548235", "#1f4e79", "#a5a5a5"]},
     "legend": {"orient": "none", "legendX": 186, "legendY": 20, "direction": "horizontal", "title": null,
       "symbolType": "square", "symbolSize": 225, "symbolOpacity": 1, "symbolStrokeWidth": 0,
       "labelFontSize": 26, "labelFontWeight": "bold", "labelColor": "#000000", "labelOffset": 0,
       "columnPadding": 28, "padding": 0,
       "encode": {"symbols": {"update": {"opacity": {"value": 1}, "fillOpacity": {"value": 1}}}}}}}},
  {"data": {"name": "blue"}, "mark": {"type": "bar", "size": 0.6, "opacity": 0.6},
   "encoding": {"color": {"datum": "5-10 mm", "type": "nominal"}}},
  {"data": {"name": "gray"}, "mark": {"type": "bar", "size": 0.6, "opacity": 0.6},
   "encoding": {"color": {"datum": "<5 mm", "type": "nominal"}}}
]
}
